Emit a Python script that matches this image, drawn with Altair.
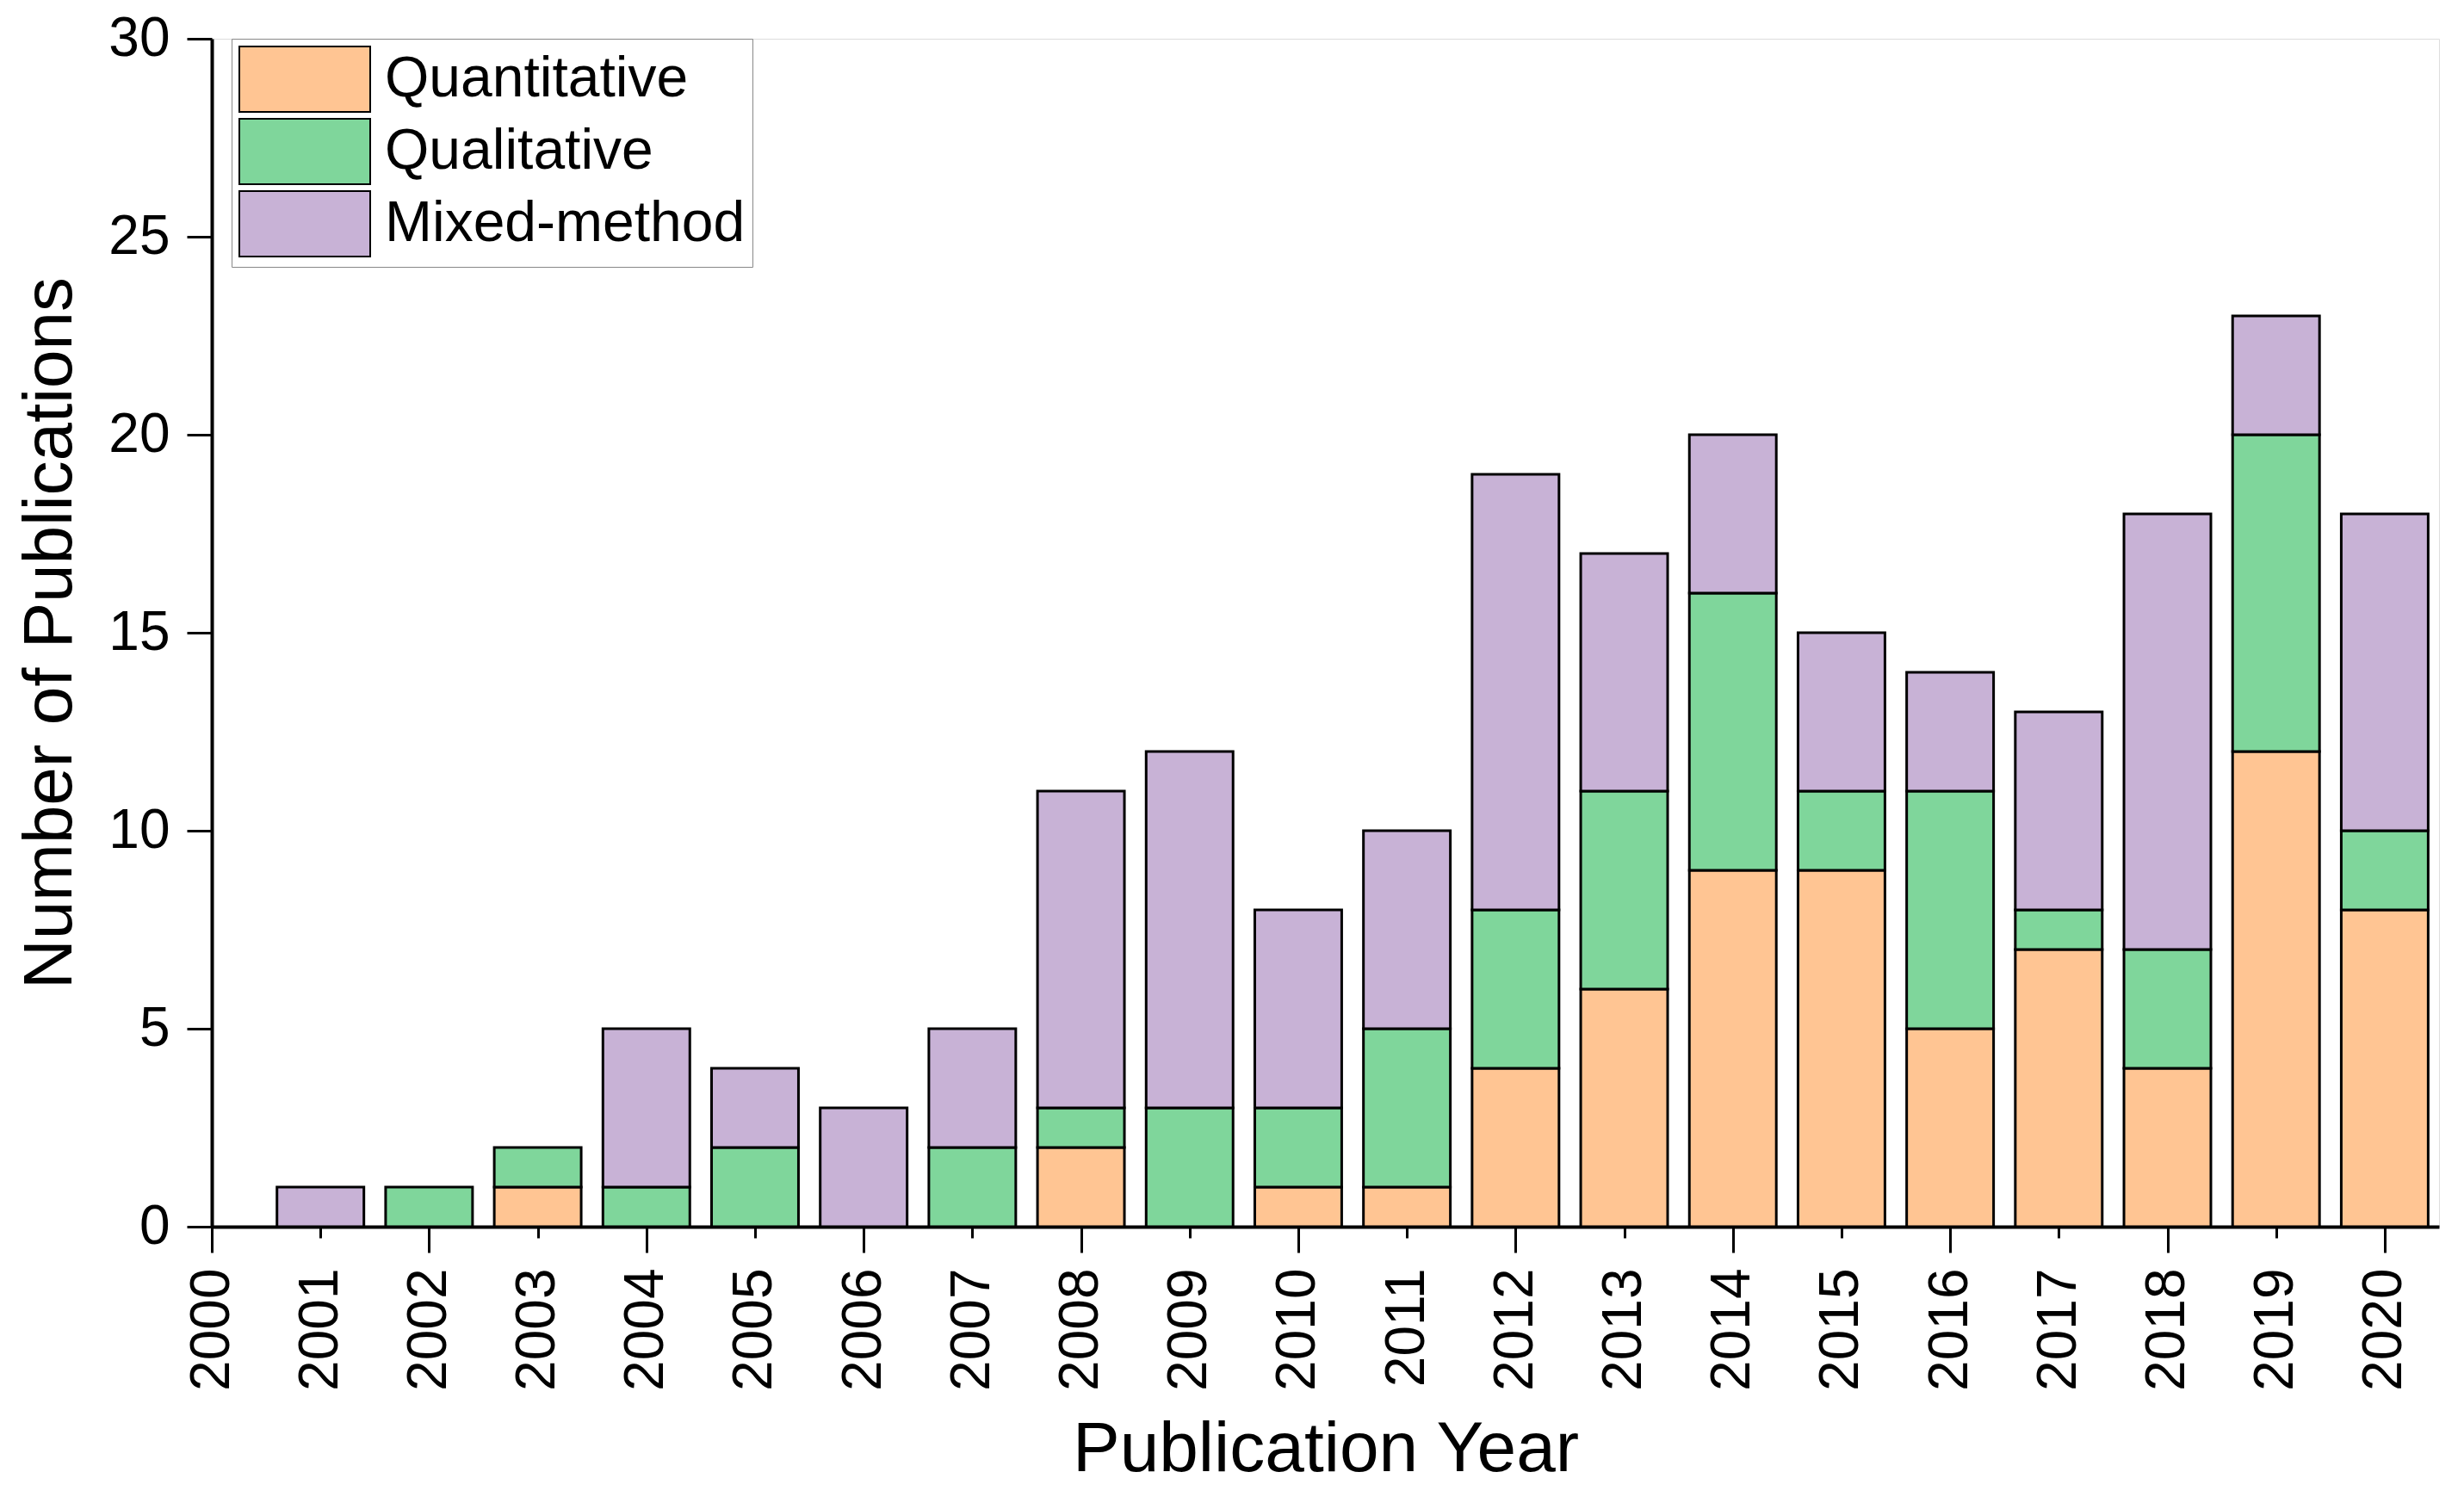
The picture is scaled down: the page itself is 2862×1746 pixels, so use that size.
import altair as alt
import pandas as pd

years = list(range(2001, 2021))
quantitative = [0, 0, 1, 0, 0, 0, 0, 2, 0, 1, 1, 4, 6, 9, 9, 5, 7, 4, 12, 8]
qualitative = [0, 1, 1, 1, 2, 0, 2, 1, 3, 2, 4, 4, 5, 7, 2, 6, 1, 3, 8, 2]
mixed = [1, 0, 0, 4, 2, 3, 3, 8, 9, 5, 5, 11, 6, 4, 4, 3, 5, 11, 3, 8]
categories = ["Quantitative", "Qualitative", "Mixed-method"]
colors = ["#FFC593", "#7FD69B", "#C8B2D6"]
x_tick_labels = list(range(2000, 2021))
x_major_ticks = list(range(2000, 2021, 2))
y_ticks = [0, 5, 10, 15, 20, 25, 30]

rows = []
for ord_i, (cat, vals) in enumerate(zip(categories, [quantitative, qualitative, mixed])):
    for yr, v in zip(years, vals):
        if v > 0:
            rows.append({"year": yr, "category": cat, "count": v, "ord": ord_i})
df = pd.DataFrame(rows)

FONT = "Liberation Sans"
xscale = alt.Scale(domain=[2000, 2020.5], nice=False, zero=False)
yscale = alt.Scale(domain=[0, 30], nice=False)

axis_minor = alt.Axis(
    values=x_tick_labels, title="Publication Year", orient="bottom",
    labelAngle=270, labelAlign="right", labelBaseline="middle",
    labelFontSize=64, labelFont=FONT, labelColor="black", labelPadding=35,
    tickSize=13, tickWidth=3, tickColor="black",
    domainWidth=4, domainColor="black", grid=False, labelFlush=False,
    titleFontSize=82, titleFont=FONT, titleFontWeight="normal", titleColor="black",
    titlePadding=28, format="d", labelOverlap=False,
)
axis_major = alt.Axis(
    values=x_major_ticks, title=None, orient="bottom", labels=False,
    tickSize=30, tickWidth=3, tickColor="black", domain=False, grid=False,
)
yaxis = alt.Axis(
    values=y_ticks, title="Number of Publications", orient="left",
    labelFontSize=64, labelFont=FONT, labelColor="black", labelPadding=20,
    tickSize=29, tickWidth=3, tickColor="black",
    domainWidth=4, domainColor="black", grid=False,
    titleFontSize=80, titleFont=FONT, titleFontWeight="normal", titleColor="black",
    titlePadding=26,
)

legend = alt.Legend(
    title=None, orient="none", legendX=23, legendY=0,
    symbolType="M-2,-1H2V1H-2Z", symbolSize=5776, symbolOffset=38,
    symbolStrokeColor="black", symbolStrokeWidth=2, symbolOpacity=1,
    labelFontSize=66, labelFont=FONT, labelColor="black", labelOffset=54,
    labelLimit=0,
    strokeColor="#888888", fillColor="white", padding=8, rowPadding=0,
)

bars = alt.Chart(df).transform_calculate(
    x0="datum.year - 0.4", x1="datum.year + 0.4"
).transform_stack(
    stack="count", groupby=["year"], as_=["y0", "y1"],
    sort=[alt.SortField("ord", order="ascending")],
).mark_bar(stroke="black", strokeWidth=3, opacity=1).encode(
    x=alt.X("x0:Q", scale=xscale, axis=axis_minor),
    x2="x1:Q",
    y=alt.Y("y0:Q", scale=yscale, axis=yaxis),
    y2="y1:Q",
    color=alt.Color("category:N", scale=alt.Scale(domain=categories, range=colors), legend=legend),
)

major = alt.Chart(df).mark_point(opacity=0).encode(
    x=alt.X("year:Q", scale=xscale, axis=axis_major),
)

chart = alt.layer(bars, major).resolve_axis(x="independent").properties(
    width=2587, height=1380, padding={"left": 10, "top": 5, "right": 5, "bottom": 5}
).configure_view(stroke=None).configure(background="white")

chart.save("out.html", embed_options={"renderer": "svg", "actions": False})
